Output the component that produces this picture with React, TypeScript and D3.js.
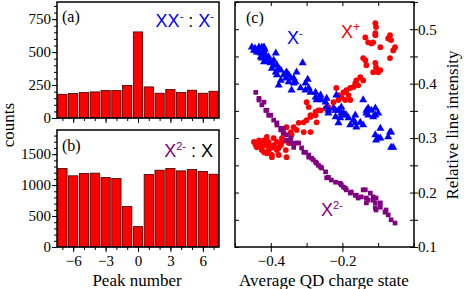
import React, { useEffect, useRef } from 'react';
import * as d3 from 'd3';

// peak numbers and counts for panels (a) and (b)
const peaks = [-7, -6, -5, -4, -3, -2, -1, 0, 1, 2, 3, 4, 5, 6, 7];
const countsA = [180, 186, 193, 198, 208, 208, 247, 653, 236, 188, 216, 193, 211, 188, 203];
const countsB = [1268, 1150, 1187, 1193, 1122, 1106, 653, 329, 1171, 1241, 1268, 1230, 1252, 1220, 1176];

// panel (c): [average charge state, relative line intensity]
const xMinus: [number, number][] = [
  [-0.453, 0.467], [-0.444, 0.465], [-0.439, 0.461], [-0.433, 0.467], [-0.425, 0.467], [-0.419, 0.467],
  [-0.417, 0.463], [-0.439, 0.458], [-0.428, 0.456], [-0.414, 0.452], [-0.428, 0.449], [-0.411, 0.447],
  [-0.425, 0.447], [-0.411, 0.443], [-0.386, 0.456], [-0.400, 0.438], [-0.392, 0.434], [-0.397, 0.428],
  [-0.372, 0.425], [-0.386, 0.421], [-0.358, 0.419], [-0.383, 0.416], [-0.358, 0.410], [-0.344, 0.410],
  [-0.372, 0.406], [-0.350, 0.403], [-0.336, 0.401], [-0.328, 0.421], [-0.311, 0.438], [-0.378, 0.397],
  [-0.342, 0.388], [-0.331, 0.403], [-0.303, 0.401], [-0.297, 0.408], [-0.294, 0.392], [-0.317, 0.392],
  [-0.303, 0.388], [-0.289, 0.384], [-0.275, 0.384], [-0.275, 0.375], [-0.272, 0.370], [-0.267, 0.373],
  [-0.261, 0.379], [-0.258, 0.370], [-0.247, 0.366], [-0.244, 0.373], [-0.217, 0.379], [-0.239, 0.351],
  [-0.219, 0.351], [-0.203, 0.346], [-0.192, 0.342], [-0.219, 0.339], [-0.206, 0.337], [-0.183, 0.337],
  [-0.169, 0.333], [-0.164, 0.328], [-0.142, 0.370], [-0.133, 0.351], [-0.119, 0.351], [-0.108, 0.342],
  [-0.128, 0.342], [-0.108, 0.306], [-0.100, 0.300], [-0.064, 0.311], [-0.064, 0.283], [-0.244, 0.357],
  [-0.239, 0.346], [-0.225, 0.355], [-0.211, 0.351], [-0.203, 0.357], [-0.197, 0.346], [-0.211, 0.328],
  [-0.189, 0.342], [-0.178, 0.324], [-0.164, 0.342], [-0.161, 0.320], [-0.150, 0.329], [-0.142, 0.324],
  [-0.133, 0.346], [-0.128, 0.355], [-0.108, 0.355], [-0.114, 0.339], [-0.100, 0.346], [-0.094, 0.318],
  [-0.106, 0.296], [-0.094, 0.300], [-0.067, 0.311], [-0.072, 0.302], [-0.058, 0.283],
  [-0.447, 0.461], [-0.433, 0.458], [-0.419, 0.458], [-0.406, 0.449], [-0.419, 0.440], [-0.406, 0.440],
  [-0.392, 0.443], [-0.383, 0.434], [-0.378, 0.428], [-0.364, 0.416], [-0.356, 0.421], [-0.350, 0.416],
  [-0.336, 0.410]
];

const xPlus: [number, number][] = [
  [-0.108, 0.511], [-0.106, 0.504], [-0.108, 0.493], [-0.108, 0.489], [-0.136, 0.485], [-0.128, 0.476],
  [-0.119, 0.474], [-0.114, 0.476], [-0.094, 0.467], [-0.067, 0.489], [-0.072, 0.483], [-0.064, 0.480],
  [-0.053, 0.467], [-0.058, 0.461], [-0.067, 0.447], [-0.136, 0.443], [-0.133, 0.434], [-0.108, 0.438],
  [-0.106, 0.430], [-0.114, 0.421], [-0.100, 0.421], [-0.094, 0.425], [-0.142, 0.447],
  [-0.142, 0.406], [-0.150, 0.412], [-0.161, 0.406], [-0.164, 0.401], [-0.156, 0.397], [-0.169, 0.394],
  [-0.178, 0.392], [-0.189, 0.388], [-0.197, 0.384], [-0.183, 0.379], [-0.203, 0.375], [-0.192, 0.370],
  [-0.211, 0.370], [-0.178, 0.370], [-0.217, 0.392], [-0.225, 0.366], [-0.211, 0.379], [-0.239, 0.357],
  [-0.247, 0.355], [-0.267, 0.351], [-0.275, 0.342], [-0.289, 0.339], [-0.300, 0.333], [-0.308, 0.329],
  [-0.322, 0.328], [-0.294, 0.357], [-0.300, 0.366], [-0.289, 0.342], [-0.275, 0.348], [-0.261, 0.351],
  [-0.336, 0.320], [-0.328, 0.315], [-0.344, 0.311], [-0.342, 0.306], [-0.289, 0.311], [-0.364, 0.309],
  [-0.350, 0.291], [-0.358, 0.278], [-0.378, 0.269], [-0.397, 0.265], [-0.411, 0.272], [-0.433, 0.287],
  [-0.419, 0.296], [-0.411, 0.302], [-0.392, 0.300], [-0.383, 0.293], [-0.439, 0.283], [-0.425, 0.278],
  [-0.400, 0.282], [-0.386, 0.282], [-0.414, 0.287], [-0.372, 0.287], [-0.369, 0.300], [-0.356, 0.320],
  [-0.308, 0.311], [-0.272, 0.329], [-0.442, 0.287], [-0.425, 0.283], [-0.406, 0.278], [-0.397, 0.269],
  [-0.356, 0.265], [-0.369, 0.293], [-0.344, 0.291], [-0.433, 0.296], [-0.428, 0.291], [-0.406, 0.293],
  [-0.392, 0.287], [-0.378, 0.282], [-0.419, 0.274], [-0.406, 0.287], [-0.383, 0.278], [-0.364, 0.296],
  [-0.447, 0.293]
];

const x2Minus: [number, number][] = [
  [-0.442, 0.384], [-0.433, 0.373], [-0.425, 0.361], [-0.414, 0.351], [-0.406, 0.342], [-0.392, 0.333],
  [-0.383, 0.324], [-0.372, 0.318], [-0.364, 0.309], [-0.356, 0.296], [-0.344, 0.291], [-0.336, 0.283],
  [-0.433, 0.370], [-0.411, 0.351], [-0.400, 0.342], [-0.383, 0.328], [-0.356, 0.306], [-0.344, 0.300],
  [-0.322, 0.291], [-0.314, 0.282], [-0.303, 0.274], [-0.294, 0.269], [-0.286, 0.263], [-0.275, 0.256],
  [-0.267, 0.250], [-0.258, 0.245], [-0.331, 0.291], [-0.308, 0.274], [-0.294, 0.265], [-0.281, 0.260],
  [-0.272, 0.254], [-0.261, 0.247], [-0.247, 0.238], [-0.239, 0.228], [-0.231, 0.223], [-0.219, 0.219],
  [-0.206, 0.217], [-0.197, 0.210], [-0.189, 0.205], [-0.175, 0.201], [-0.161, 0.195], [-0.147, 0.192],
  [-0.136, 0.205], [-0.128, 0.186], [-0.122, 0.199], [-0.114, 0.192], [-0.108, 0.181], [-0.106, 0.190],
  [-0.106, 0.168], [-0.094, 0.173], [-0.081, 0.164], [-0.072, 0.159], [-0.064, 0.150], [-0.053, 0.144],
  [-0.244, 0.227], [-0.203, 0.214], [-0.192, 0.208], [-0.178, 0.199], [-0.164, 0.195], [-0.156, 0.190],
  [-0.142, 0.205], [-0.133, 0.190], [-0.133, 0.181], [-0.114, 0.186], [-0.108, 0.172], [-0.094, 0.181],
  [-0.078, 0.168], [-0.419, 0.366], [-0.372, 0.315], [-0.364, 0.318]
];

const SERIF = "Liberation Serif, Times New Roman, serif";
const SANS = "Liberation Sans, Arial, sans-serif";

const App = () => {
  const svgRef = useRef<SVGSVGElement>(null);

  useEffect(() => {
    const svg = d3.select(svgRef.current);
    svg.selectAll("*").remove();

    // axis text in Times-like serif, like the original figure
    const styleText = (a: any) => {
      a.attr("font-family", SERIF).attr("font-size", 15);
      a.selectAll("text")
        .attr("font-family", SERIF).attr("font-size", 15)
        .style("font-family", SERIF).style("font-size", "15px").attr("fill", "#000");
    };
    const noDomain = (a: any) => a.select(".domain").remove();

    // ---- bar panels (a) and (b) ----
    const barPanel = (values: number[], yMax: number, top: number, bottom: number,
                      major: number[], minorStep: number, showX: boolean) => {
      const g = svg.append("g");
      const x = d3.scaleBand<number>().domain(peaks).range([57, 219]).paddingInner(0.14).paddingOuter(0.07);
      const y = d3.scaleLinear().domain([0, yMax]).range([bottom, top]);

      g.selectAll("rect.bar")
        .data(values)
        .enter()
        .append("rect")
        .attr("class", "bar")
        .attr("x", (d, i) => x(peaks[i])!)
        .attr("width", x.bandwidth())
        .attr("y", d => y(d))
        .attr("height", d => bottom - y(d))
        .attr("fill", "#ff0000")
        .attr("stroke", "#3a0000")
        .attr("stroke-width", 0.8);

      // y axis
      const minor = d3.range(0, yMax, minorStep);
      g.append("g").attr("transform", "translate(57,0)")
        .call(d3.axisLeft(y).tickValues(minor).tickSize(3).tickFormat(() => ""))
        .call(noDomain);
      g.append("g").attr("transform", "translate(57,0)")
        .call(d3.axisLeft(y).tickValues(major).tickSize(5).tickPadding(1).tickFormat(d3.format("d")))
        .call(noDomain)
        .call(styleText);

      // x axis
      const cx = (p: number) => x(p)! + x.bandwidth() / 2;
      const xl = d3.scaleLinear().domain([-7, 7]).range([cx(-7), cx(7)]);
      g.append("g").attr("transform", `translate(0,${bottom})`)
        .call(d3.axisBottom(xl).tickValues(peaks).tickSize(3).tickFormat(() => ""))
        .call(noDomain);
      g.append("g").attr("transform", `translate(0,${bottom})`)
        .call(d3.axisBottom(xl).tickValues([-6, -3, 0, 3, 6]).tickSize(5).tickPadding(3)
          .tickFormat(d => showX ? d3.format("d")(d as number) : ""))
        .call(noDomain)
        .call(styleText);

      g.append("rect")
        .attr("x", 57).attr("y", top).attr("width", 162).attr("height", bottom - top)
        .attr("fill", "none").attr("stroke", "#000").attr("stroke-width", 1.5);
      return g;
    };

    const ga = barPanel(countsA, 880, 2, 118, [0, 250, 500, 750], 50, false);
    const gb = barPanel(countsB, 1890, 130, 247, [0, 500, 1000, 1500], 100, true);

    ga.append("text").attr("x", 62).attr("y", 22).text("(a)")
      .style("font-family", SERIF).style("font-size", "16px");
    gb.append("text").attr("x", 62).attr("y", 151).text("(b)")
      .style("font-family", SERIF).style("font-size", "16px");

    // ratio labels
    const la = ga.append("text").attr("x", 214).attr("y", 27).attr("text-anchor", "end")
      .style("font-family", SANS).style("font-size", "18px");
    la.append("tspan").attr("fill", "#0000ff").text("XX");
    la.append("tspan").attr("fill", "#0000ff").attr("dy", -7).style("font-size", "11px").text("-");
    la.append("tspan").attr("fill", "#000").attr("dy", 7).text(" : ");
    la.append("tspan").attr("fill", "#0000ff").text("X");
    la.append("tspan").attr("fill", "#0000ff").attr("dy", -7).style("font-size", "11px").text("-");

    const lb = gb.append("text").attr("x", 213).attr("y", 157).attr("text-anchor", "end")
      .style("font-family", SANS).style("font-size", "18px");
    lb.append("tspan").attr("fill", "#800080").text("X");
    lb.append("tspan").attr("fill", "#800080").attr("dy", -7).style("font-size", "11px").text("2-");
    lb.append("tspan").attr("fill", "#000").attr("dy", 7).text(" : X");

    svg.append("text")
      .attr("transform", "translate(14,125) rotate(-90)")
      .attr("text-anchor", "middle")
      .style("font-family", SERIF).style("font-size", "17px")
      .text("counts");
    svg.append("text").attr("x", 137).attr("y", 286).attr("text-anchor", "middle")
      .style("font-family", SERIF).style("font-size", "17px")
      .text("Peak number");

    // ---- scatter panel (c) ----
    const gc = svg.append("g");
    const xs = d3.scaleLinear().domain([-0.5, 0]).range([235, 414]);
    const ys = d3.scaleLinear().domain([0.1, 0.55]).range([247, 2]);

    const xMajor = [-0.4, -0.2];
    const xMinor = d3.range(-0.5, 0.001, 0.1);
    const yMajor = [0.1, 0.2, 0.3, 0.4, 0.5];
    const yMinor = d3.range(0.1, 0.551, 0.05);

    // bottom
    gc.append("g").attr("transform", "translate(0,247)")
      .call(d3.axisBottom(xs).tickValues(xMinor).tickSize(-4).tickFormat(() => "")).call(noDomain);
    gc.append("g").attr("transform", "translate(0,247)")
      .call(d3.axisBottom(xs).tickValues(xMajor).tickSize(5).tickPadding(3).tickFormat(d3.format(".1f")))
      .call(noDomain).call(styleText);
    // top
    gc.append("g").attr("transform", "translate(0,2)")
      .call(d3.axisTop(xs).tickValues(xMinor).tickSize(-4).tickFormat(() => "")).call(noDomain);
    // left
    gc.append("g").attr("transform", "translate(235,0)")
      .call(d3.axisLeft(ys).tickValues(yMinor).tickSize(-4).tickFormat(() => "")).call(noDomain);
    // right
    gc.append("g").attr("transform", "translate(414,0)")
      .call(d3.axisRight(ys).tickValues(yMinor).tickSize(-4).tickFormat(() => "")).call(noDomain);
    gc.append("g").attr("transform", "translate(414,0)")
      .call(d3.axisRight(ys).tickValues(yMinor).tickSize(4).tickPadding(0)
        .tickFormat(d => yMajor.some(v => Math.abs(v - (d as number)) < 1e-6) ? d3.format(".1f")(d as number) : ""))
      .call(noDomain).call(styleText);

    const sym = (type: d3.SymbolType, size: number) => d3.symbol().type(type).size(size);

    gc.selectAll("circle.xp")
      .data(xPlus)
      .enter()
      .append("circle")
      .attr("class", "xp")
      .attr("cx", d => xs(d[0]))
      .attr("cy", d => ys(d[1]))
      .attr("r", 2.9)
      .attr("fill", "#ff0000");

    gc.selectAll("path.x2")
      .data(x2Minus)
      .enter()
      .append("path")
      .attr("class", "x2")
      .attr("d", sym(d3.symbolSquare, 22)())
      .attr("transform", d => `translate(${xs(d[0])},${ys(d[1])})`)
      .attr("fill", "#800080");

    gc.selectAll("path.xm")
      .data(xMinus)
      .enter()
      .append("path")
      .attr("class", "xm")
      .attr("d", sym(d3.symbolTriangle, 28)())
      .attr("transform", d => `translate(${xs(d[0])},${ys(d[1])})`)
      .attr("fill", "#0000ff");

    gc.append("rect")
      .attr("x", 235).attr("y", 2).attr("width", 179).attr("height", 245)
      .attr("fill", "none").attr("stroke", "#000").attr("stroke-width", 1.5);

    gc.append("text").attr("x", 246).attr("y", 23).text("(c)")
      .style("font-family", SERIF).style("font-size", "16px");

    const t1 = gc.append("text").attr("x", 287).attr("y", 44)
      .style("font-family", SANS).style("font-size", "18px").attr("fill", "#0000ff");
    t1.append("tspan").text("X");
    t1.append("tspan").attr("dy", -7).style("font-size", "11px").text("-");

    const t2 = gc.append("text").attr("x", 341).attr("y", 38)
      .style("font-family", SANS).style("font-size", "18px").attr("fill", "#ff0000");
    t2.append("tspan").text("X");
    t2.append("tspan").attr("dy", -7).style("font-size", "12px").text("+");

    const t3 = gc.append("text").attr("x", 321).attr("y", 216)
      .style("font-family", SANS).style("font-size", "18px").attr("fill", "#800080");
    t3.append("tspan").text("X");
    t3.append("tspan").attr("dy", -7).style("font-size", "11px").text("2-");

    svg.append("text").attr("x", 324).attr("y", 286).attr("text-anchor", "middle")
      .style("font-family", SERIF).style("font-size", "17px")
      .text("Average QD charge state");
    svg.append("text")
      .attr("transform", "translate(458,125) rotate(-90)")
      .attr("text-anchor", "middle")
      .style("font-family", SERIF).style("font-size", "17px")
      .text("Relative line intensity");
  }, []);

  return (
    <svg ref={svgRef} width={464} height={289}
      style={{ position: "absolute", left: 0, top: 0, background: "#fff" }} />
  );
};

export default App;
